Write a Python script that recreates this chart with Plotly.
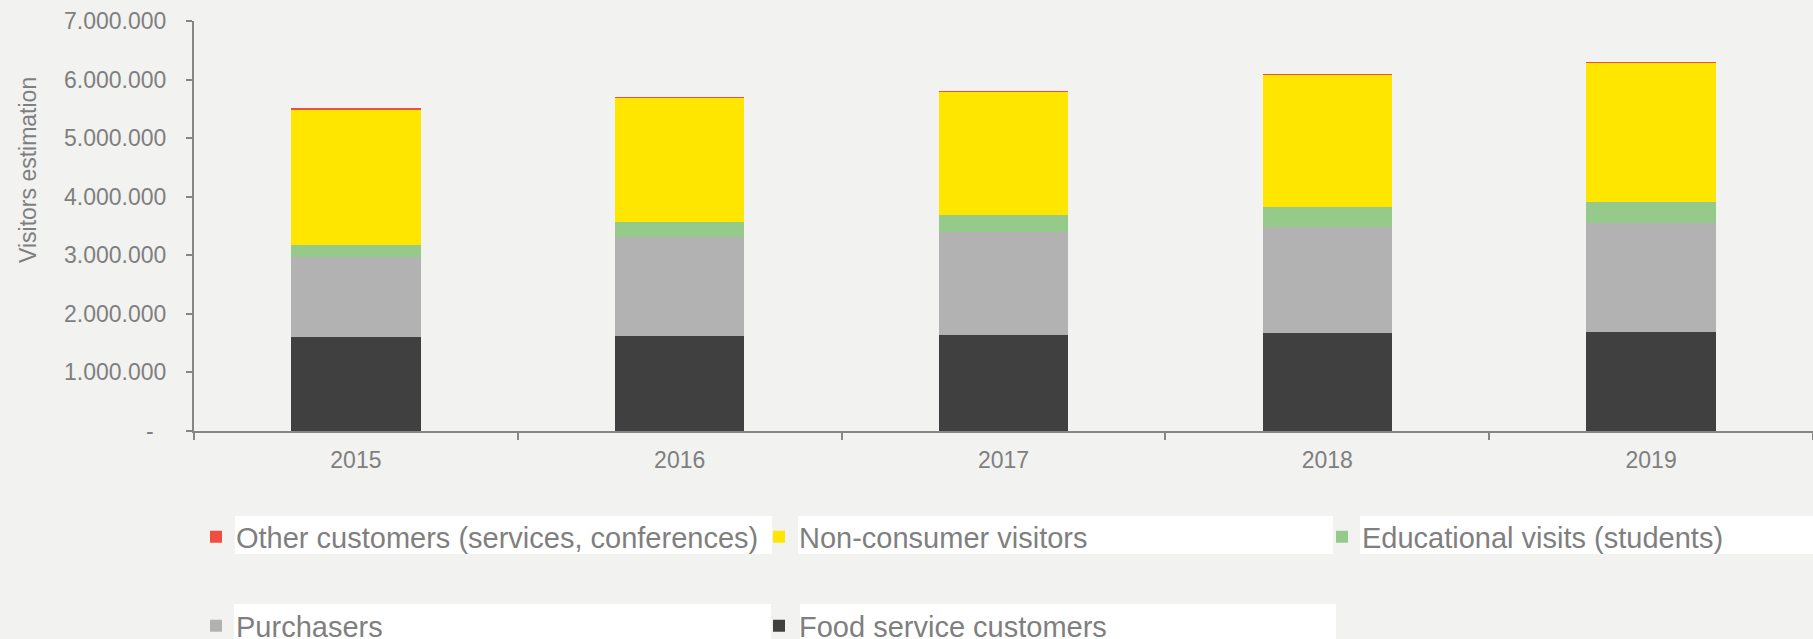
import plotly.graph_objects as go

# ---------------- data ----------------
years = ["2015", "2016", "2017", "2018", "2019"]
food_service = [1600000, 1622000, 1645000, 1668000, 1690000]
purchasers = [1376000, 1696000, 1753000, 1810000, 1856000]
educational = [194000, 250000, 295000, 346000, 369000]
non_consumer = [2324000, 2124000, 2099000, 2260000, 2370000]
other_customers = [6000, 8000, 8000, 10000, 15000]

y_tick_values = [0, 1000000, 2000000, 3000000, 4000000, 5000000, 6000000, 7000000]
y_tick_labels = ["-\u00a0\u00a0", "1.000.000", "2.000.000", "3.000.000", "4.000.000",
                 "5.000.000", "6.000.000", "7.000.000"]
y_title = "Visitors estimation"

# ---------------- style ----------------
W, H = 1813, 639
ML, MR, MT, MB = 194, 0, 21, 208
PW, PH = W - ML - MR, H - MT - MB
FONT = "Liberation Sans, Arial, sans-serif"
TXT = "#7f7f7f"
AXIS = "#868686"
BG = "#f2f2f1"


def px_x(p):
    return (p - ML) / PW


def px_y(p):
    return (H - MB - p) / PH


series = [
    ("Food service customers", food_service, "#404040", "legend2", None),
    ("Purchasers", purchasers, "#b2b2b2", "legend2", 518),
    ("Educational visits (students)", educational, "#95ca8a", "legend", None),
    ("Non-consumer visitors", non_consumer, "#ffe600", "legend", 518),
    ("Other customers (services, conferences)", other_customers, "#f04e3e", "legend", 518),
]

fig = go.Figure()
for name, vals, color, leg, lw in series:
    kw = dict(legendwidth=lw) if lw else {}
    fig.add_trace(go.Bar(
        x=years, y=vals, name=name, legend=leg,
        marker=dict(color=color, line=dict(width=0)),
        **kw,
    ))

# white text-highlight boxes behind legend labels
boxes = [
    (235, 772, 516, 554), (798, 1333, 516, 554), (1360, 1813, 516, 554),
    (234, 771, 604, 645), (800, 1336, 604, 645),
]
shapes = []
for x0, x1, y0, y1 in boxes:
    shapes.append(dict(type="rect", xref="paper", yref="paper",
                       x0=px_x(x0), x1=px_x(x1), y0=px_y(y1), y1=px_y(y0),
                       fillcolor="white", line=dict(width=0), layer="above"))

legend_common = dict(
    orientation="h", xanchor="left", yanchor="middle",
    x=px_x(196), font=dict(family=FONT, size=29, color=TXT),
    bgcolor="rgba(0,0,0,0)", borderwidth=0, traceorder="reversed",
)

fig.update_layout(
    width=W, height=H,
    margin=dict(l=ML, r=MR, t=MT, b=MB, autoexpand=False),
    paper_bgcolor=BG, plot_bgcolor=BG,
    barmode="stack", bargap=0.6,
    font=dict(family=FONT, color=TXT, size=23),
    showlegend=True,
    legend=dict(y=px_y(537), **legend_common),
    legend2=dict(y=px_y(626), **legend_common),
    shapes=shapes,
    annotations=[dict(
        text=y_title, textangle=-90, showarrow=False,
        xref="paper", yref="paper", x=px_x(28), y=px_y(170),
        xanchor="center", yanchor="middle",
        font=dict(family=FONT, size=23, color=TXT),
    )],
    xaxis=dict(
        showline=True, linecolor=AXIS, linewidth=2,
        ticks="outside", tickson="boundaries", ticklen=7, tickcolor=AXIS, tickwidth=2,
        tickfont=dict(family=FONT, size=23, color=TXT),
        ticklabelstandoff=7,
        showgrid=False, zeroline=False,
    ),
    yaxis=dict(
        range=[0, 7000000],
        tickvals=y_tick_values, ticktext=y_tick_labels,
        showline=True, linecolor=AXIS, linewidth=2,
        ticks="outside", ticklen=6, tickcolor=AXIS, tickwidth=2,
        tickfont=dict(family=FONT, size=23, color=TXT),
        ticklabelstandoff=15,
        showgrid=False, zeroline=False,
    ),
)

fig.write_html("out.html")
